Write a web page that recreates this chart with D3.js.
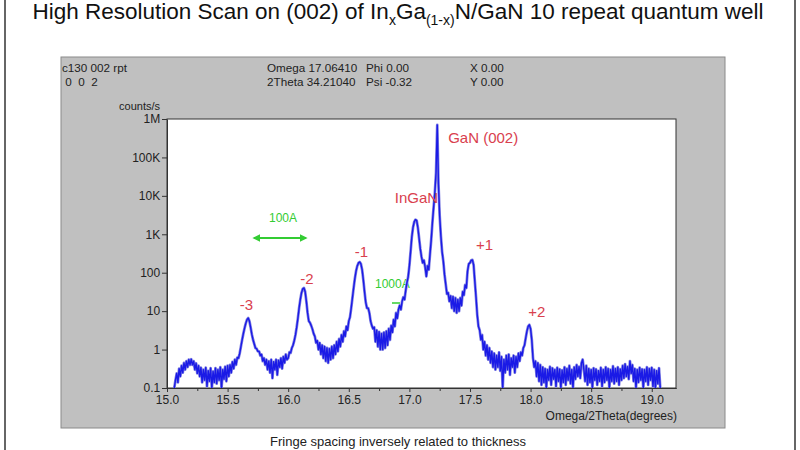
<!DOCTYPE html>
<html>
<head>
<meta charset="utf-8">
<script src="https://cdn.jsdelivr.net/npm/d3@7/dist/d3.min.js"></script>
<style>
  html, body { margin: 0; padding: 0; background: #ffffff; }
  svg { display: block; font-family: "Liberation Sans", Arial, sans-serif; }
</style>
</head>
<body>
<svg id="chart" width="800" height="450"></svg>
<script>
// ---------- data ----------
const scanStart = 15.06;   // first omega/2theta sample (degrees)
const scanStep = 0.01;     // scan step (degrees)
const scanCounts = [
  /*15.06*/ 0.1, 0.16, 0.24, 0.14,
  /*15.10*/ 0.32, 0.2, 0.38, 0.25, 0.45, 0.3, 0.5, 0.35, 0.55, 0.4,
  /*15.20*/ 0.56, 0.4, 0.5, 0.3, 0.44, 0.24, 0.38, 0.2, 0.34, 0.14,
  /*15.30*/ 0.3, 0.16, 0.34, 0.11, 0.28, 0.15, 0.33, 0.1, 0.27, 0.14,
  /*15.40*/ 0.33, 0.13, 0.3, 0.16, 0.35, 0.1, 0.3, 0.17, 0.36, 0.15,
  /*15.50*/ 0.38, 0.2, 0.4, 0.25, 0.48, 0.32, 0.55, 0.4, 0.62, 0.6,
  /*15.60*/ 0.8, 1.2, 1.8, 2.6, 3.6, 4.8, 6.0, 6.6, 5.5, 3.8,
  /*15.70*/ 2.5, 1.8, 1.4, 1.1, 1.05, 0.9, 0.9, 0.7, 0.75, 0.5,
  /*15.80*/ 0.6, 0.4, 0.55, 0.3, 0.5, 0.25, 0.55, 0.18, 0.48, 0.3,
  /*15.90*/ 0.55, 0.22, 0.52, 0.35, 0.6, 0.32, 0.65, 0.45, 0.75, 0.55,
  /*16.00*/ 0.6, 0.85, 0.82, 1.1, 1.3, 1.7, 2.4, 3.8, 6.5, 12,
  /*16.10*/ 20, 30, 38, 40, 32, 18, 9, 5.5, 5.0, 4.2,
  /*16.20*/ 3.4, 2.6, 2.2, 1.5, 1.7, 1.0, 1.5, 0.75, 1.3, 0.6,
  /*16.30*/ 1.2, 0.5, 1.1, 0.45, 1.05, 0.55, 1.2, 0.6, 1.3, 0.75,
  /*16.40*/ 1.6, 0.9, 1.9, 1.2, 2.4, 1.6, 3.0, 2.2, 4.0, 3.2,
  /*16.50*/ 5.5, 7, 12, 22, 40, 70, 110, 150, 180, 190,
  /*16.60*/ 170, 120, 65, 32, 17, 12, 12, 9, 5.5, 4.2,
  /*16.70*/ 3.5, 3.8, 1.6, 3.2, 1.2, 2.9, 1.0, 2.6, 1.0, 2.8,
  /*16.80*/ 1.1, 3.0, 1.3, 3.5, 1.8, 4.2, 2.8, 6, 4, 9,
  /*16.90*/ 6.5, 11, 14, 11, 18, 23, 20, 35, 55, 78,
  /*17.00*/ 150, 350, 850, 1500, 2100, 2400, 2300, 1500, 800, 420,
  /*17.10*/ 260, 180, 210, 140, 80, 150, 120, 300, 700, 2000,
  /*17.20*/ 5000, 12000, 40000, 700000, 20000, 3000, 900, 350, 200, 90,
  /*17.30*/ 50, 28, 30, 18, 25, 12, 24, 10, 22, 9,
  /*17.40*/ 20, 10, 22, 14, 32, 26, 48, 40, 110, 170,
  /*17.50*/ 180, 210, 215, 160, 60, 23, 8, 4, 3.2, 1.8,
  /*17.60*/ 2.4, 1.0, 1.6, 0.7, 1.3, 0.55, 1.1, 0.45, 0.9, 0.35,
  /*17.70*/ 0.8, 0.3, 0.7, 0.35, 0.85, 0.28, 0.65, 0.1, 0.55, 0.25,
  /*17.80*/ 0.7, 0.3, 0.75, 0.22, 0.6, 0.35, 0.7, 0.25, 0.65, 0.35,
  /*17.90*/ 0.8, 0.5, 0.85, 0.7, 1.1, 1.3, 2.0, 3.0, 4.0, 4.4,
  /*18.00*/ 3.5, 1.8, 0.6, 0.35, 0.5, 0.2, 0.45, 0.15, 0.4, 0.12,
  /*18.10*/ 0.35, 0.14, 0.32, 0.1, 0.3, 0.16, 0.36, 0.12, 0.33, 0.17,
  /*18.20*/ 0.3, 0.11, 0.34, 0.15, 0.31, 0.1, 0.29, 0.14, 0.35, 0.12,
  /*18.30*/ 0.32, 0.16, 0.38, 0.13, 0.3, 0.1, 0.35, 0.17, 0.4, 0.2,
  /*18.40*/ 0.36, 0.18, 0.45, 0.55, 0.3, 0.15, 0.38, 0.12, 0.32, 0.14,
  /*18.50*/ 0.3, 0.1, 0.33, 0.16, 0.31, 0.12, 0.28, 0.15, 0.34, 0.11,
  /*18.60*/ 0.3, 0.14, 0.35, 0.16, 0.32, 0.1, 0.3, 0.15, 0.37, 0.13,
  /*18.70*/ 0.32, 0.15, 0.35, 0.12, 0.31, 0.16, 0.38, 0.18, 0.42, 0.2,
  /*18.80*/ 0.36, 0.17, 0.5, 0.24, 0.4, 0.15, 0.32, 0.1, 0.3, 0.14,
  /*18.90*/ 0.34, 0.16, 0.31, 0.1, 0.3, 0.15, 0.35, 0.12, 0.32, 0.16,
  /*19.00*/ 0.34, 0.11, 0.3, 0.1, 0.28, 0.13, 0.33, 0.1
];

const xTickValues = [15.0, 15.5, 16.0, 16.5, 17.0, 17.5, 18.0, 18.5, 19.0];
const xTickLabels = ["15.0", "15.5", "16.0", "16.5", "17.0", "17.5", "18.0", "18.5", "19.0"];
const xMinorTicks = [15.25, 15.75, 16.25, 16.75, 17.25, 17.75, 18.25, 18.75];
const yTickValues = [0.1, 1, 10, 100, 1e3, 1e4, 1e5, 1e6];
const yTickLabels = ["0.1", "1", "10", "100", "1K", "10K", "100K", "1M"];

// peak annotations: label, omega position and counts level of its baseline
const peakLabels = ["-3", "-2", "-1", "InGaN", "GaN (002)", "+1", "+2"];
const peakOmega  = [15.60, 16.10, 16.55, 16.88, 17.32, 17.55, 17.98];
const peakCounts = [10.7, 51, 256, 6500, 237000, 390, 7.0];

const headerLeft = ["c130 002 rpt", " 0  0  2"];
const headerMid1 = ["Omega 17.06410", "2Theta 34.21040"];
const headerMid2 = ["Phi 0.00", "Psi -0.32"];
const headerRight = ["X 0.00", "Y 0.00"];

// ---------- layout ----------
const svg = d3.select("#chart");
const plot = { left: 167, right: 676, top: 119, bottom: 388 };

const x = d3.scaleLinear().domain([15.0, 19.2]).range([plot.left, plot.right]);
const y = d3.scaleLog().domain([0.1, 1e6]).range([plot.bottom, plot.top]);

const series = scanCounts.map((c, i) => ({ omega: scanStart + i * scanStep, counts: c }));

// outer frame lines
svg.append("line").attr("x1", 5).attr("x2", 5).attr("y1", 0).attr("y2", 450)
  .attr("stroke", "#333").attr("stroke-width", 1.5);
svg.append("line").attr("x1", 795).attr("x2", 795).attr("y1", 0).attr("y2", 450)
  .attr("stroke", "#333").attr("stroke-width", 1.5);

// title
const title = svg.append("text").attr("x", 398).attr("y", 19)
  .attr("text-anchor", "middle").attr("font-size", 22.5).attr("fill", "#111");
title.append("tspan").text("High Resolution Scan on (002) of In");
title.append("tspan").text("x").attr("font-size", 14).attr("dy", 6);
title.append("tspan").text("Ga").attr("dy", -6);
title.append("tspan").text("(1-x)").attr("font-size", 14).attr("dy", 6);
title.append("tspan").text("N/GaN 10 repeat quantum well").attr("dy", -6);

// grey instrument panel
svg.append("rect").attr("x", 61).attr("y", 57).attr("width", 664).attr("height", 371)
  .attr("fill", "#c0c0c0").attr("stroke", "#8a8a8a").attr("stroke-width", 1);

const hdr = svg.append("g").attr("font-size", 11.7).attr("fill", "#222");
function headerCol(lines, xPos) {
  lines.forEach((t, i) => {
    hdr.append("text").attr("x", xPos).attr("y", 72 + i * 14).text(t)
      .attr("xml:space", "preserve");
  });
}
headerCol(headerLeft, 62);
headerCol(headerMid1, 267);
headerCol(headerMid2, 366);
headerCol(headerRight, 470);

// plot area
svg.append("rect").attr("x", plot.left).attr("y", plot.top)
  .attr("width", plot.right - plot.left).attr("height", plot.bottom - plot.top)
  .attr("fill", "#ffffff").attr("stroke", "#333").attr("stroke-width", 1);

// axes
const xAxis = svg.append("g").attr("transform", `translate(0,${plot.bottom})`)
  .call(d3.axisBottom(x).tickValues(xTickValues).tickSize(4).tickSizeOuter(0)
    .tickFormat((d, i) => xTickLabels[i]));
const xMinor = svg.append("g").attr("transform", `translate(0,${plot.bottom})`)
  .call(d3.axisBottom(x).tickValues(xMinorTicks).tickSize(3).tickSizeOuter(0).tickFormat(""));
const yAxis = svg.append("g").attr("transform", `translate(${plot.left},0)`)
  .call(d3.axisLeft(y).tickValues(yTickValues).tickSize(5).tickSizeOuter(0)
    .tickFormat((d, i) => yTickLabels[i]));
[xAxis, xMinor, yAxis].forEach(g => {
  g.select(".domain").attr("stroke", "#333");
  g.selectAll(".tick line").attr("stroke", "#333");
  g.selectAll(".tick text").attr("fill", "#222").attr("font-size", 12)
    .attr("font-family", "'Liberation Sans', Arial, sans-serif");
});
xAxis.selectAll(".tick text").attr("y", 7).attr("dy", "0.71em");
yAxis.selectAll(".tick text").attr("dx", "0.1em");

svg.append("text").attr("x", 160).attr("y", 110).attr("text-anchor", "end")
  .attr("font-size", 11).attr("fill", "#222").text("counts/s");
svg.append("text").attr("x", 677).attr("y", 420).attr("text-anchor", "end")
  .attr("font-size", 12).attr("fill", "#222").text("Omega/2Theta(degrees)");

// annotations (behind the curve)
const green = "#33cc33";
svg.append("text").attr("x", 269).attr("y", 222).attr("font-size", 12)
  .attr("fill", green).text("100A");
const defs = svg.append("defs");
defs.append("marker").attr("id", "ah").attr("viewBox", "0 0 10 10")
  .attr("refX", 8).attr("refY", 5).attr("markerWidth", 4).attr("markerHeight", 4)
  .attr("orient", "auto-start-reverse")
  .append("path").attr("d", "M0,0 L10,5 L0,10 z").attr("fill", green);
svg.append("line").attr("x1", 254).attr("x2", 306).attr("y1", 238).attr("y2", 238)
  .attr("stroke", green).attr("stroke-width", 2)
  .attr("marker-start", "url(#ah)").attr("marker-end", "url(#ah)");
svg.append("text").attr("x", 375).attr("y", 288).attr("font-size", 12)
  .attr("fill", green).text("1000A");
svg.append("line").attr("x1", 392).attr("x2", 400).attr("y1", 303).attr("y2", 303)
  .attr("stroke", green).attr("stroke-width", 1.5);

// spectrum
svg.append("clipPath").attr("id", "clip").append("rect")
  .attr("x", plot.left).attr("y", plot.top)
  .attr("width", plot.right - plot.left).attr("height", plot.bottom - plot.top);
const line = d3.line().x(d => x(d.omega)).y(d => y(Math.max(0.1, d.counts)));
svg.append("path").datum(series).attr("clip-path", "url(#clip)")
  .attr("fill", "none").attr("stroke", "#8484e2").attr("stroke-width", 2.8)
  .attr("stroke-linejoin", "round").attr("d", line);
svg.append("path").datum(series).attr("clip-path", "url(#clip)")
  .attr("fill", "none").attr("stroke", "#1a1ae6").attr("stroke-width", 1.4)
  .attr("stroke-linejoin", "round").attr("d", line);

// peak labels
const red = "#d9404e";
svg.append("g").selectAll("text").data(peakLabels).join("text")
  .attr("x", (d, i) => x(peakOmega[i]))
  .attr("y", (d, i) => y(peakCounts[i]))
  .attr("font-size", 15).attr("fill", red).text(d => d);

// caption
svg.append("text").attr("x", 398).attr("y", 446).attr("text-anchor", "middle")
  .attr("font-size", 13).attr("fill", "#222").text("Fringe spacing inversely related to thickness");
</script>
</body>
</html>
